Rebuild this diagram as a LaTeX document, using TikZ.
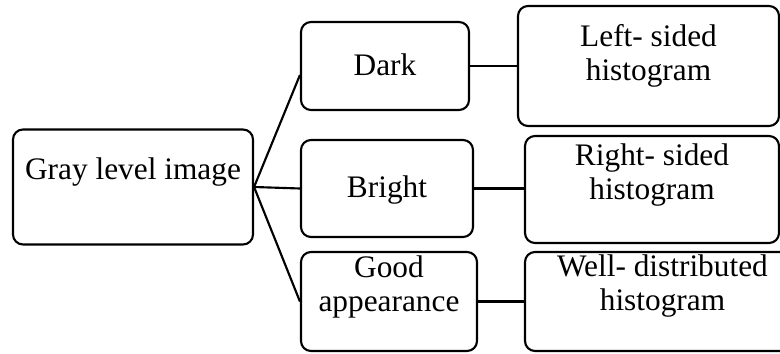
\documentclass[tikz,border=0pt]{standalone}
\usepackage{fontspec}
\setmainfont{Liberation Serif}

\begin{document}
\begin{tikzpicture}[x=0.75pt,y=0.75pt,
    font=\fontsize{23.5}{25.5}\selectfont,
    box/.style={draw,line width=1.6pt,rounded corners=7.5pt,align=center,
        inner sep=0pt,text height=17pt},
    twolines/.style={box,text height=42.5pt},
    link/.style={line width=1.6pt}]
    \useasboundingbox (0,0) rectangle (780,353);
    \clip (0,0) rectangle (780,353);
    % root
    \node[box,minimum width=180pt,minimum height=86.25pt,text depth=28.5pt] (gray) at (133,166) {Gray level image};
    % middle column
    \node[box,minimum width=126pt,minimum height=66pt,text depth=3pt] (dark) at (385,287) {Dark};
    \node[box,minimum width=129pt,minimum height=72.75pt,text depth=3pt] (bright) at (387,164.5) {Bright};
    \node[twolines,minimum width=132pt,minimum height=74.25pt,text depth=27.8pt] (good) at (389,51.5) {Good\\appearance};
    % right column
    \node[twolines,minimum width=195.75pt,minimum height=90pt,text depth=20.2pt] (left) at (648.5,287) {Left- sided\\histogram};
    \node[twolines,minimum width=190.5pt,minimum height=80.25pt,text depth=27pt] (right) at (652,163.5) {Right- sided\\histogram};
    \node[twolines,minimum width=206.25pt,minimum height=74.25pt,text depth=29pt] (well) at (662.5,51.5) {Well- distributed\\histogram};
    % links
    \draw[link] (gray.east) -- ([yshift=-6.75pt]dark.west);
    \draw[link] (gray.east) -- (bright.west);
    \draw[link] (gray.east) -- (good.west);
    \draw[link] (dark.east) -- (left.west);
    \draw[link] (bright.east) -- (bright.east -| right.west);
    \draw[link] (good.east) -- (well.west);
\end{tikzpicture}
\end{document}
